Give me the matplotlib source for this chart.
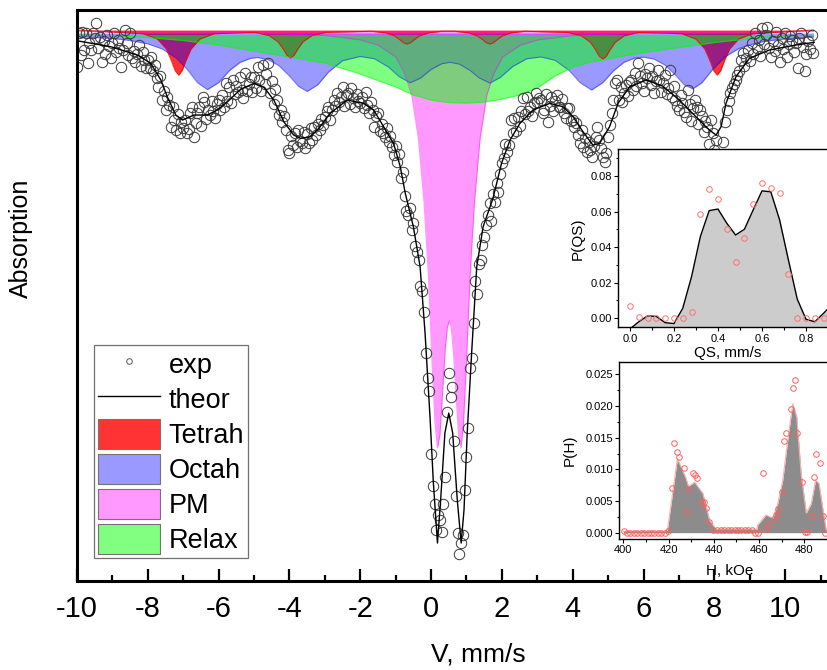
import matplotlib.pyplot as plt
import numpy as np
from matplotlib.lines import Line2D
from matplotlib.patches import Patch
from matplotlib.ticker import MultipleLocator

plt.rcParams['font.family'] = ['Liberation Sans', 'DejaVu Sans']
plt.rcParams['axes.unicode_minus'] = False

# ---------------- main spectrum (absorption, arb. units, down = more) ----------------
# experimental points, one row per mm/s, channel step 0.05 mm/s starting at -10
v_start, v_step = -10.0, 0.05
exp_a = [
    3.5, 0.1, 2.3, 0.0, 1.8, 0.1, 3.1, 1.1, 1.8, 0.1, 0.6, -0.9, 1.6, 0.5, 3.0, 0.9, 2.2, 0.3, 1.4, 2.6,
    1.1, 0.1, 2.0, 0.8, 1.6, 3.5, 1.8, -0.2, 1.1, 2.3, 0.1, 2.6, 1.9, 3.0, 2.2, 1.3, 3.4, 2.0, 2.8, 3.6,
    2.8, 3.6, 2.5, 3.9, 3.3, 4.6, 5.5, 4.4, 6.8, 5.9, 7.8, 6.5, 7.3, 9.5, 7.5, 8.8, 9.8, 8.2, 10.1, 9.0,
    9.6, 8.8, 10.1, 9.7, 8.1, 7.5, 10.5, 9.1, 8.1, 7.5, 9.4, 6.5, 7.0, 8.7, 7.8, 8.3, 6.9, 7.9, 8.6, 7.2,
    6.8, 7.8, 6.3, 7.5, 5.1, 6.9, 5.5, 7.1, 4.8, 6.2, 5.4, 6.0, 4.5, 5.8, 6.6, 4.1, 5.9, 5.2, 4.5, 6.0,
    4.5, 5.6, 3.5, 4.8, 5.9, 3.3, 5.2, 4.2, 3.1, 6.1, 4.9, 7.2, 5.7, 6.8, 8.3, 7.8, 9.0, 8.4, 9.8, 11.8,
    12.1, 10.4, 11.3, 10.1, 11.5, 9.8, 10.9, 11.1, 10.0, 11.6, 10.2, 11.1, 9.6, 10.8, 9.5, 10.3, 9.2, 9.8, 8.7, 9.3,
    8.5, 7.9, 7.5, 8.8, 7.8, 6.8, 7.4, 6.1, 7.0, 6.5, 5.5, 7.4, 6.3, 6.1, 7.2, 5.6, 6.6, 7.5, 6.2, 6.9,
    7.1, 6.5, 7.6, 6.0, 7.3, 8.1, 7.0, 7.8, 9.5, 8.4, 8.1, 9.9, 9.2, 10.1, 10.5, 9.6, 11.0, 10.4, 11.5, 12.3,
    11.4, 13.0, 12.2, 14.6, 14.0, 16.4, 17.9, 18.3, 17.6, 19.8, 19.1, 21.4, 22.0, 22.8, 25.4, 25.9, 28.0, 32.1, 34.6, 35.9,
    42.2, 45.4, 47.2, 49.8, 48.3, 48.8, 50.0, 47.2, 44.5, 38.0, 34.1, 36.5, 35.5, 40.9, 46.4, 50.1, 52.2, 51.1, 50.3, 45.8,
    42.5, 39.6, 33.6, 32.6, 29.1, 24.9, 26.2, 23.2, 22.8, 21.3, 20.5, 19.3, 18.3, 17.1, 18.9, 16.2, 17.0, 15.1, 16.0, 14.2,
    13.1, 12.6, 11.2, 12.0, 11.3, 8.8, 10.1, 8.6, 9.9, 8.5, 9.4, 7.9, 6.6, 8.2, 6.5, 7.9, 7.5, 8.4, 7.1, 6.1,
    7.0, 6.6, 6.8, 8.1, 7.8, 6.2, 9.0, 7.4, 6.5, 7.9, 6.9, 6.3, 7.5, 7.5, 6.7, 8.1, 8.6, 7.6, 7.6, 8.9,
    8.8, 9.5, 9.1, 10.3, 11.1, 9.8, 11.5, 10.6, 12.0, 11.0, 11.8, 12.5, 11.4, 10.5, 9.5, 10.8, 11.6, 12.5, 13.0, 12.1,
    10.5, 9.3, 8.1, 6.8, 5.1, 4.8, 6.8, 5.5, 7.0, 6.1, 5.3, 6.4, 5.0, 4.8, 5.8, 4.1, 5.4, 3.1, 4.4, 5.1,
    5.9, 4.2, 4.6, 3.6, 5.3, 4.4, 6.1, 4.9, 3.8, 4.8, 6.0, 5.1, 4.3, 6.2, 5.6, 3.8, 6.5, 5.4, 6.8, 7.4,
    7.8, 6.3, 7.1, 8.0, 8.5, 5.8, 7.2, 8.9, 7.6, 6.8, 7.5, 9.2, 7.8, 8.4, 10.0, 8.9, 9.5, 11.2, 8.8, 10.1,
    11.8, 10.8, 12.6, 12.3, 13.4, 11.0, 9.0, 7.8, 6.9, 6.1, 5.6, 5.2, 4.8, 4.3, 3.9, 2.8, 2.1, 3.4, 2.6, 1.8,
    2.9, 1.1, 2.2, 0.1, 1.6, 0.8, 2.4, -0.4, 1.2, 0.3, -0.5, 1.6, 2.5, 0.9, 1.9, 0.0, 1.3, 3.0, 0.6, 1.7,
    0.1, 2.5, 1.2, 0.4, 0.8, 2.0, 1.1, 3.6, 0.6, 0.1, 1.5, 3.9, 2.2, 0.9, 1.7, 0.3, 2.1,
]
vel = np.round(v_start + v_step * np.arange(len(exp_a)), 3)

# fitted total spectrum
th_v = [-10.0, -9.04, -8.29, -7.92, -7.63, -7.45, -7.21, -7.02, -6.70, -6.32,
        -6.04, -5.75, -5.38, -5.0, -4.72, -4.44, -4.16, -3.88, -3.69, -3.41,
        -3.17, -2.85, -2.37, -1.91, -1.62, -1.34, -1.06, -0.87, -0.73, -0.50,
        -0.31, -0.17, -0.03, 0.065, 0.18, 0.27, 0.39, 0.50, 0.61, 0.74,
        0.85, 0.93, 1.02, 1.15, 1.29, 1.47, 1.75, 1.99, 2.23, 2.51,
        2.88, 3.35, 3.73, 4.01, 4.29, 4.57, 4.76, 5.04, 5.28, 5.61,
        6.08, 6.54, 7.01, 7.48, 7.86, 8.05, 8.19, 8.33, 8.61, 8.99,
        9.55, 10.30, 10.82]
th_a = [0.87, 1.47, 2.3, 3.13, 4.8, 6.47, 8.3, 8.8, 8.3, 8.3,
        7.8, 6.97, 5.73, 5.13, 5.53, 6.8, 8.97, 10.3, 10.63, 10.47,
        9.63, 8.13, 6.8, 7.13, 7.8, 9.47, 11.13, 13.47, 16.1, 19.47,
        23.47, 30.1, 38.5, 45.1, 51.1, 46.8, 40.1, 38.1, 40.1, 46.8,
        51.1, 47.8, 40.1, 31.8, 23.47, 19.47, 16.6, 13.13, 10.8, 9.13,
        7.8, 7.13, 7.47, 8.47, 9.97, 11.3, 11.13, 9.47, 7.13, 5.47,
        4.8, 5.4, 6.8, 8.47, 9.8, 10.3, 9.47, 7.13, 4.47, 2.63,
        1.8, 1.3, 1.03]

# subspectra
tet_base = -0.2
tet_v = [-10.0, -8.13, -7.73, -7.48, -7.33, -7.23, -7.13, -7.03, -6.93, -6.78, -6.53, -6.13,
         -4.97, -4.57, -4.32, -4.17, -4.07, -3.97, -3.87, -3.77, -3.62, -3.37, -2.97,
         -1.68, -1.28, -1.03, -0.88, -0.78, -0.68, -0.58, -0.48, -0.33, -0.08, 0.32,
         0.66, 1.06, 1.31, 1.46, 1.56, 1.66, 1.76, 1.86, 2.01, 2.26, 2.66,
         3.85, 4.25, 4.50, 4.65, 4.75, 4.85, 4.95, 5.05, 5.20, 5.45, 5.85,
         7.08, 7.48, 7.73, 7.88, 7.98, 8.08, 8.18, 8.28, 8.43, 8.68, 9.08, 10.8]
tet_a = [-0.2, 0.17, 0.7, 1.69, 2.9, 3.85, 4.3, 3.85, 2.9, 1.69, 0.7, 0.17,
         0.03, 0.36, 0.98, 1.73, 2.32, 2.6, 2.32, 1.73, 0.98, 0.36, 0.03,
         -0.08, 0.08, 0.39, 0.77, 1.06, 1.2, 1.06, 0.77, 0.39, 0.08, -0.08,
         -0.08, 0.08, 0.39, 0.77, 1.06, 1.2, 1.06, 0.77, 0.39, 0.08, -0.08,
         0.04, 0.38, 1.02, 1.8, 2.41, 2.7, 2.41, 1.8, 1.02, 0.38, 0.04,
         0.17, 0.7, 1.69, 2.9, 3.85, 4.3, 3.85, 2.9, 1.69, 0.7, 0.17, -0.2]

oct_base = 0.1
oct_v = [-10, -9, -8.5, -8, -7.6, -7.2, -6.9, -6.6, -6.32, -6.0,
         -5.7, -5.4, -5.1, -4.9, -4.6, -4.3, -4.0, -3.75, -3.5, -3.2,
         -2.9, -2.5, -2.0, -1.6, -1.2, -0.9, -0.59, -0.3, 0.0, 0.3,
         0.535, 0.8, 1.1, 1.35, 1.66, 1.95, 2.3, 2.7, 3.1, 3.5,
         3.9, 4.2, 4.53, 4.85, 5.15, 5.45, 5.75, 6.0, 6.3, 6.6,
         6.9, 7.15, 7.39, 7.65, 7.95, 8.3, 8.7, 9.2, 9.8, 10.8]
oct_a = [0.45, 0.64, 0.84, 1.18, 1.68, 2.59, 3.69, 5.06, 5.76, 5.06,
         3.87, 3.04, 2.63, 2.55, 2.76, 3.36, 4.4, 5.42, 5.94, 5.27,
         4.01, 2.86, 2.44, 2.67, 3.51, 4.47, 5.07, 4.61, 3.74, 3.17,
         3.02, 3.21, 3.83, 4.57, 5.1, 4.55, 3.46, 2.67, 2.49, 2.82,
         3.85, 5.04, 5.8, 5.06, 3.88, 3.02, 2.6, 2.51, 2.71, 3.29,
         4.3, 5.28, 5.68, 5.07, 3.74, 2.48, 1.63, 1.07, 0.75, 0.49]

pm_base = -0.1
pm_v = [-10, -6, -3, -2, -1.5, -1.0, -0.75, -0.55, -0.36, -0.2, -0.08, 0.03, 0.11, 0.18, 0.25,
        0.32, 0.40, 0.46, 0.5125, 0.565, 0.625, 0.705, 0.775, 0.845, 0.915, 0.995, 1.105,
        1.225, 1.385, 1.575, 1.775, 2.025, 2.525, 3.025, 4.025, 7.025, 10.8]
pm_a = [-0.05, 0.03, 0.34, 0.78, 1.3, 2.48, 4.12, 6.28, 10.6, 17.0, 24.1, 33.3, 39.1, 41.6, 40.3,
        36.3, 31.7, 29.5, 28.9, 29.5, 31.7, 36.3, 40.3, 41.6, 39.1, 33.3, 24.1,
        17.0, 10.6, 6.28, 4.12, 2.48, 1.3, 0.78, 0.34, 0.03, -0.05]

rel_base = 0.25
rel_v = [-10, -9, -8, -7, -6, -5, -4, -3, -2, -1, -0.5, 0, 0.5, 1, 1.5, 2, 2.5,
         3, 3.5, 4, 4.5, 5, 5.5, 6, 6.5, 7, 7.5, 8, 8.5, 9, 9.5, 10, 10.8]
rel_a = [0.25, 0.35, 0.55, 0.85, 1.3, 1.9, 2.5, 3.1, 4.2, 5.5, 6.3, 6.8, 7.05, 7.1, 7.0, 6.7, 6.3,
         5.6, 4.4, 3.5, 3.0, 2.7, 2.35, 2.05, 1.8, 1.55, 1.3, 1.05, 0.85, 0.7, 0.55, 0.4, 0.3]

# ---------------- QS distribution inset ----------------
qs_x = [0.00, 0.04, 0.08, 0.12, 0.16, 0.20, 0.24, 0.28, 0.32, 0.36, 0.40, 0.44, 0.48,
        0.52, 0.56, 0.60, 0.64, 0.68, 0.72, 0.76, 0.80, 0.84, 0.88, 0.92, 0.96]
qs_fit = [-0.006, -0.002, 0.0013, 0.0010, -0.0025, -0.003, 0.0056, 0.0234, 0.0459, 0.0605,
          0.0614, 0.0534, 0.0468, 0.0500, 0.0609, 0.0716, 0.0711, 0.0553, 0.0328, 0.0108,
          -0.0006, -0.002, 0.0028, 0.008, 0.012]
qs_pts = [0.0069, 0.0009, 0.0, 0.0, 0.0, 0.0, 0.0001, 0.0034, 0.0588, 0.0729, 0.0669, 0.0500,
          0.0317, 0.0450, 0.0644, 0.0759, 0.0734, 0.0703, 0.0247, 0.0, 0.0, 0.0, 0.0]

# ---------------- hyperfine field distribution inset ----------------
h_fit_x = [400, 418, 419.5, 423.9, 427.7, 428.8, 431.5, 435.2, 438.1, 441.1, 459.0, 459.4,
           463.1, 466.1, 468.3, 470.5, 472.7, 474.9, 476.7, 478.6, 480.9, 483.1, 485.0,
           486.5, 488.3, 489.8, 492]
h_fit = [0.0002, 0.0002, 0.0004, 0.0117, 0.0086, 0.0073, 0.0080, 0.0062, 0.0020, 0.0005, 0.0005,
         0.0012, 0.0028, 0.0023, 0.0046, 0.0083, 0.0146, 0.0204, 0.0183, 0.0094, 0.0031, 0.0046,
         0.0083, 0.0078, 0.0036, 0.0003, 0.0]
h_pts_x = [400.2, 401.5, 403.0, 404.6, 406.1, 407.6, 409.1, 410.7, 412.2, 413.7, 415.2, 416.8,
           418.3, 419.8, 421.7, 422.6, 423.6, 424.6, 426.7, 427.7, 428.7, 430.6, 431.7, 432.7,
           434.6, 435.6, 436.7, 437.7, 439.7, 441.5, 443.1, 444.6, 446.1, 447.7, 449.2, 450.7,
           452.2, 453.8, 455.3, 456.8, 458.3, 459.5, 461.9, 463.1, 464.1, 466.6, 467.5, 468.5,
           470.0, 471.0, 471.9, 474.0, 475.0, 476.0, 477.0, 479.0, 480.2, 481.0, 483.3, 484.2,
           485.2, 487.1, 488.1, 489.1]
h_pts = [0.0003, 0.0, 0.0, 0.0, 0.0, 0.0, 0.0, 0.0, 0.0, 0.0, 0.0, 0.0,
         0.0, 0.0002, 0.0070, 0.0142, 0.0127, 0.0120, 0.0102, 0.0032, 0.0069, 0.0094, 0.0091, 0.0087,
         0.0048, 0.0048, 0.0039, 0.0017, 0.0004, 0.0005, 0.0005, 0.0005, 0.0005, 0.0005, 0.0005, 0.0005,
         0.0005, 0.0005, 0.0005, 0.0005, 0.0, 0.0, 0.0094, 0.0006, 0.0012, 0.0021, 0.0028, 0.0038,
         0.0064, 0.0145, 0.0157, 0.0195, 0.0229, 0.0241, 0.0157, 0.0080, 0.0001, 0.0001, 0.0026, 0.0088,
         0.0124, 0.0110, 0.0026, 0.0]

# ================= drawing =================
fig = plt.figure(figsize=(8.28, 6.7), dpi=100)
ax = fig.add_axes([0.0930, 0.1328, 0.9194, 0.8522])

comps = [
    (tet_v, tet_a, tet_base, '#ff0000', 0.8, 'Tetrah', '#ff3333'),
    (oct_v, oct_a, oct_base, '#0000ff', 0.4, 'Octah', '#9999ff'),
    (pm_v, pm_a, pm_base, '#ff00ff', 0.4, 'PM', '#ff99ff'),
    (rel_v, rel_a, rel_base, '#00ff00', 0.5, 'Relax', '#80ff80'),
]
for v, a, b, c, al, lab, shown in comps:
    ax.fill_between(v, b, a, color=c, alpha=al, lw=0)
    ax.plot(v, a, color=c, alpha=al, lw=0.8)

ax.plot(vel, exp_a, 'o', mfc='none', mec='#3a3a3a', ms=7.5, mew=0.7)
ax.plot(th_v, th_a, '-', color='black', lw=1.0)

ax.set_xlim(-10, 11.5)
ax.set_ylim(54.9, -2.2)
ax.set_xticks(np.arange(-10, 11, 2))
ax.xaxis.set_minor_locator(MultipleLocator(1))
ax.set_yticks([])
for s in ax.spines.values():
    s.set_linewidth(2.2)
ax.tick_params(axis='x', which='major', direction='in', length=8.5, width=1.6,
               labelsize=21, pad=10)
ax.tick_params(axis='x', which='minor', direction='in', length=4.5, width=1.6)
ax.set_xlabel('V, mm/s', fontsize=19)
ax.xaxis.set_label_coords(0.527, -0.108)
ax.set_ylabel('Absorption', fontsize=18)
ax.yaxis.set_label_coords(-0.058, 0.60)

handles = [Line2D([], [], ls='none', marker='o', mfc='none', mec='#555555', ms=4, mew=0.7),
           Line2D([], [], color='black', lw=1.0)]
for v, a, b, c, al, lab, shown in comps:
    handles.append(Patch(facecolor=shown, edgecolor='0.45', lw=0.8))
labels = ['exp', 'theor'] + [cc[5] for cc in comps]
leg = ax.legend(handles, labels, loc='upper left', bbox_to_anchor=(0.0223, 0.4133),
                borderaxespad=0, fontsize=19.5, frameon=True, fancybox=False,
                edgecolor='0.3', handlelength=2.3, handleheight=1.3, handletextpad=0.3,
                labelspacing=0.19, borderpad=0.15)
leg.get_frame().set_linewidth(0.9)

# --- inset 1: P(QS) ---
ax1 = fig.add_axes([0.7467, 0.5115, 0.2653, 0.2657])
ax1.fill_between(qs_x, -0.02, qs_fit, color='#cccccc', lw=0)
ax1.plot(qs_x, qs_fit, color='black', lw=1.0)
ax1.plot(qs_x[:len(qs_pts)], qs_pts, 'o', mfc='none', mec='#ff7070', ms=4, mew=0.7)
ax1.set_xlim(-0.053, 0.945)
ax1.set_ylim(-0.0051, 0.095)
ax1.set_xticks([0.0, 0.2, 0.4, 0.6, 0.8])
ax1.set_yticks([0.0, 0.02, 0.04, 0.06, 0.08])
ax1.xaxis.set_minor_locator(MultipleLocator(0.1))
ax1.yaxis.set_minor_locator(MultipleLocator(0.01))
ax1.tick_params(which='major', direction='out', length=3, width=0.8, labelsize=8, pad=1.5)
ax1.tick_params(which='minor', direction='out', length=1.8, width=0.8)
ax1.set_xlabel('QS, mm/s', fontsize=11, labelpad=2)
ax1.set_ylabel('P(QS)', fontsize=11, labelpad=4)
for s in ax1.spines.values():
    s.set_linewidth(1.0)

# --- inset 2: P(H) ---
ax2 = fig.add_axes([0.7479, 0.1955, 0.2674, 0.2646])
ax2.fill_between(h_fit_x, 0, h_fit, color='#8c8c8c', lw=0)
ax2.plot(h_fit_x, h_fit, color='#ffb0b0', lw=0.8)
ax2.plot(h_pts_x, h_pts, 'o', mfc='none', mec='#ff6060', ms=4, mew=0.7)
ax2.set_xlim(398.2, 496.1)
ax2.set_ylim(-0.001, 0.027)
ax2.set_xticks([400, 420, 440, 460, 480])
ax2.set_yticks([0.0, 0.005, 0.010, 0.015, 0.020, 0.025])
ax2.set_yticklabels(['0.000', '0.005', '0.010', '0.015', '0.020', '0.025'])
ax2.xaxis.set_minor_locator(MultipleLocator(10))
ax2.yaxis.set_minor_locator(MultipleLocator(0.0025))
ax2.tick_params(which='major', direction='out', length=3, width=0.8, labelsize=8, pad=1.5)
ax2.tick_params(which='minor', direction='out', length=1.8, width=0.8)
ax2.set_xlabel('H, kOe', fontsize=11, labelpad=6)
ax2.set_ylabel('P(H)', fontsize=11, labelpad=6)
for s in ax2.spines.values():
    s.set_linewidth(1.0)

fig.savefig('out.png', dpi=100)
